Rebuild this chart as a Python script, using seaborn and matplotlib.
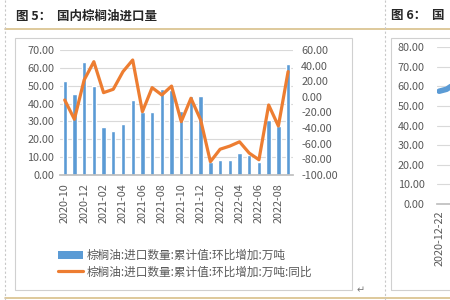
import numpy as np
import matplotlib
matplotlib.use("Agg")
import matplotlib.pyplot as plt
import seaborn as sns
from matplotlib.patches import Rectangle, Patch
from matplotlib.lines import Line2D

# data
months = ["2020-10", "2020-11", "2020-12", "2021-01", "2021-02", "2021-03",
          "2021-04", "2021-05", "2021-06", "2021-07", "2021-08", "2021-09",
          "2021-10", "2021-11", "2021-12", "2022-01", "2022-02", "2022-03",
          "2022-04", "2022-05", "2022-06", "2022-07", "2022-08", "2022-09"]
volume = [52.5, 45.5, 63.0, 50.0, 27.0, 24.7, 28.5, 42.0, 35.0, 35.0, 48.0, 47.5,
          35.8, 44.0, 44.0, 7.2, 8.6, 8.6, 12.1, 11.0, 7.0, 31.0, 27.5, 62.0]
yoy = [-4.0, -28.7, 21.6, 45.0, 5.4, 9.7, 32.3, 47.2, -19.0, 11.8, 2.4, 13.8,
       -31.7, -1.8, -29.6, -83.0, -67.0, -63.0, -57.5, -72.0, -80.5, -10.4, -37.3, 32.3]
left_ticks = [0, 10, 20, 30, 40, 50, 60, 70]
right_ticks = [-100, -80, -60, -40, -20, 0, 20, 40, 60]
label_bar = "棕榈油:进口数量:累计值:环比增加:万吨"
label_line = "棕榈油:进口数量:累计值:环比增加:万吨:同比"

# partial next figure on the right edge
fig6_x = ["2020-12-22", "2020-12-29", "2021-01-05", "2021-01-12", "2021-01-19"]
fig6_vals = [57.5, 58.5, 61.0, 62.0, 61.0]
fig6_ticks = [0, 10, 20, 30, 40, 50, 60, 70, 80]

blue = "#5B9BD5"
orange = "#ED7D31"
gray = "#595959"

sns.set_theme(style="white")
plt.rcParams["font.family"] = ["Noto Sans CJK SC", "DejaVu Sans"]

fig = plt.figure(figsize=(4.5, 3), dpi=100)

# document decorations
fig.text(0.035, 0.947, "图 5：  国内棕榈油进口量", fontsize=9, fontweight="bold", va="center")
fig.text(0.868, 0.947, "图 6：  国", fontsize=9, fontweight="bold", va="center")
fig.add_artist(Line2D([0.01, 1.0], [0.903, 0.903], color="#D8C08A", lw=1.2))
fig.add_artist(Line2D([0.01, 1.0], [0.008, 0.008], color="#D8C08A", lw=1.2))
fig.add_artist(Line2D([0.012, 0.012], [0.0, 1.0], color="#C8C8C8", lw=0.8, ls=(0, (2, 2))))
fig.add_artist(Line2D([0.856, 0.856], [0.0, 1.0], color="#C8C8C8", lw=0.8, ls=(0, (2, 2))))
fig.add_artist(Rectangle((0.034, 0.035), 0.748, 0.84, transform=fig.transFigure,
                         fill=False, edgecolor="#D0D0D0", lw=0.8))
fig.add_artist(Rectangle((0.868, 0.035), 0.2, 0.84, transform=fig.transFigure,
                         fill=False, edgecolor="#D0D0D0", lw=0.8))
fig.text(0.793, 0.032, "↵", fontsize=7, color="#777777", va="center")

# main chart
ax = fig.add_axes([0.133, 0.4167, 0.518, 0.4167])
sns.barplot(x=months, y=volume, color=blue, width=0.45, saturation=1, ax=ax)
ax.set_ylim(0, 70)
ax.set_xlim(-0.5, len(months) - 0.5)
ax.set_yticks(left_ticks)
ax.set_yticklabels([f"{v:.2f}" for v in left_ticks])
ax.yaxis.grid(True, color="#D9D9D9", lw=0.8)
ax.set_axisbelow(True)
ax.set_xticks(range(0, len(months), 2))
ax.set_xticklabels(months[::2], rotation=90)
ax.set_xticks(np.arange(-0.5, len(months), 2), minor=True)
ax.tick_params(axis="x", which="major", length=0, pad=6, labelsize=7.8, labelcolor=gray)
ax.tick_params(axis="x", which="minor", length=3, color="#BFBFBF", width=0.8)
ax.tick_params(axis="y", length=0, pad=4, labelsize=7.8, labelcolor=gray)
for s in ["top", "left", "right"]:
    ax.spines[s].set_visible(False)
ax.spines["bottom"].set_color("#BFBFBF")
ax.set_xlabel("")
ax.set_ylabel("")

ax2 = ax.twinx()
sns.lineplot(x=months, y=yoy, color=orange, lw=2.3, sort=False, ax=ax2)
ax2.set_ylim(-100, 60)
ax2.set_yticks(right_ticks)
ax2.set_yticklabels([f"{v:.2f}" for v in right_ticks])
ax2.tick_params(axis="y", length=0, pad=6, labelsize=7.8, labelcolor=gray)
for s in ax2.spines.values():
    s.set_visible(False)
ax2.set_ylabel("")
ax2.grid(False)

handles = [Patch(facecolor=blue, edgecolor="none"),
           Line2D([], [], color=orange, lw=2.3)]
fig.legend(handles, [label_bar, label_line], loc="upper left",
           bbox_to_anchor=(0.115, 0.19), frameon=False, fontsize=8.4,
           labelcolor=gray, handlelength=2.2, handleheight=0.7,
           handletextpad=0.3, labelspacing=0.3, borderpad=0)

# right-hand neighbour chart, cut off by the page edge
ax3 = fig.add_axes([0.971, 0.32, 0.5, 0.523])
sns.lineplot(x=fig6_x, y=fig6_vals, color=blue, lw=4, sort=False, ax=ax3)
ax3.set_xlim(-0.3, 30)
ax3.set_ylim(0, 80)
ax3.set_yticks(fig6_ticks)
ax3.set_yticklabels([f"{v:.2f}" for v in fig6_ticks])
ax3.yaxis.grid(True, color="#D9D9D9", lw=0.8)
ax3.set_xticks([0])
ax3.set_xticklabels([fig6_x[0]], rotation=90)
ax3.tick_params(axis="y", length=0, pad=9, labelsize=7.8, labelcolor=gray)
ax3.tick_params(axis="x", length=0, pad=5, labelsize=7.8, labelcolor=gray)
for s in ["top", "left", "right"]:
    ax3.spines[s].set_visible(False)
ax3.spines["bottom"].set_color("#BFBFBF")
ax3.set_xlabel("")
ax3.set_ylabel("")

fig.savefig("out.png", dpi=100, facecolor="white")
